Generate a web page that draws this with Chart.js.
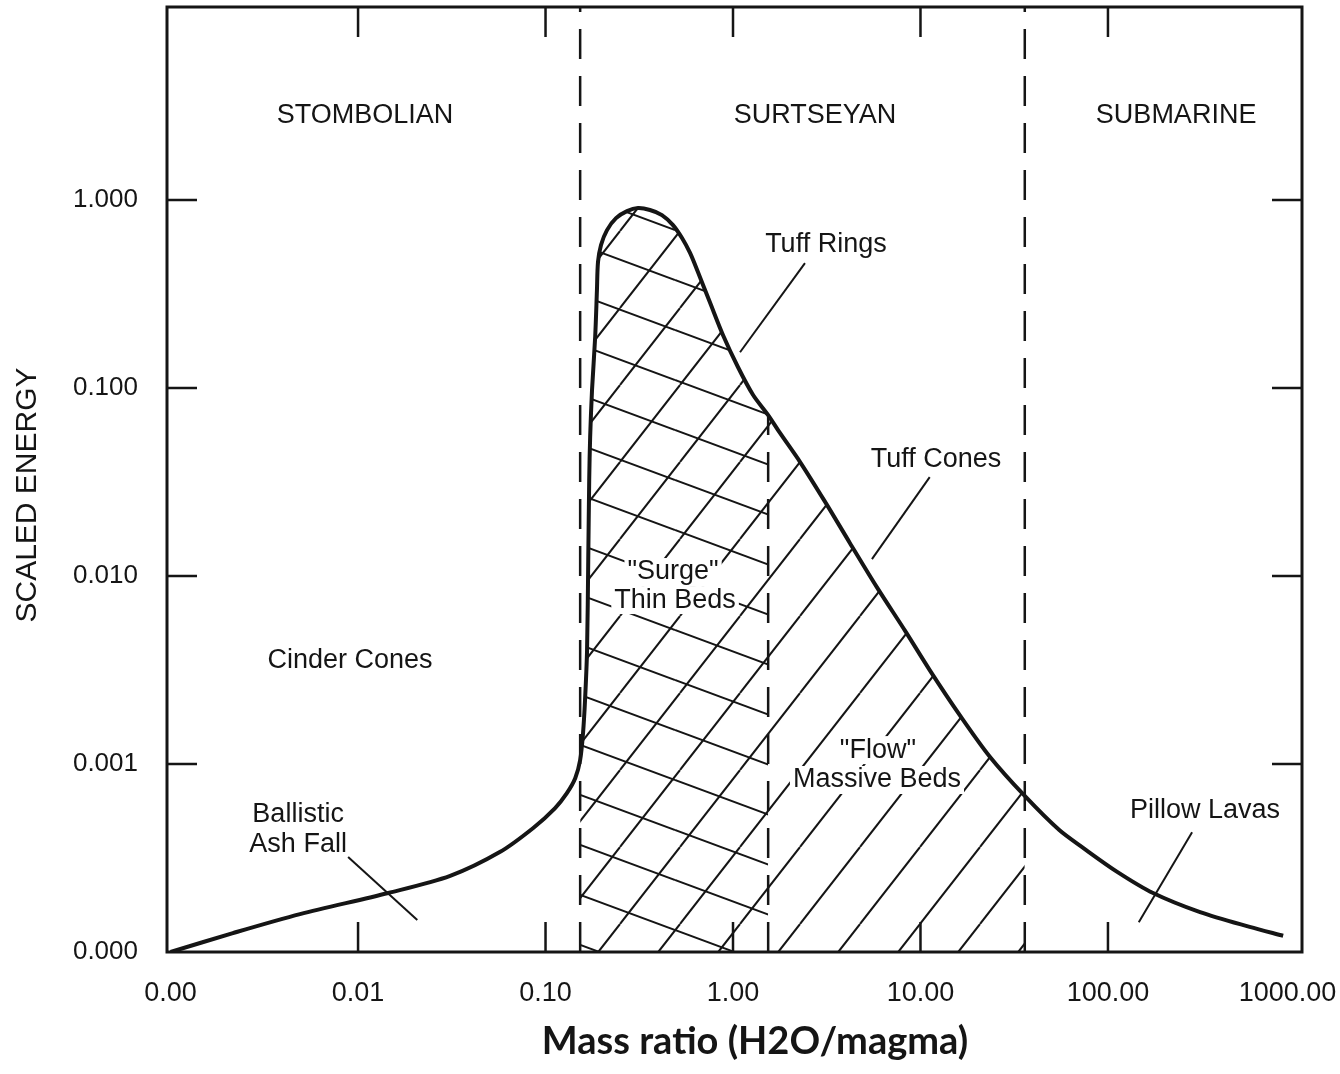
<!DOCTYPE html>
<html>
<head>
<meta charset="utf-8">
<script src="https://cdn.jsdelivr.net/npm/chart.js@4.4.1/dist/chart.umd.min.js"></script>
<style>
  html, body { margin: 0; padding: 0; background: #fff; }
</style>
</head>
<body>
<canvas id="chart" width="1340" height="1074"></canvas>
<script>
// envelope curve: mass ratio (H2O/magma) vs scaled energy
const massRatio = [0.001, 0.00215, 0.0049, 0.0145, 0.031, 0.057, 0.086, 0.1125, 0.13, 0.144,
  0.153, 0.1585, 0.1625, 0.1665, 0.169, 0.171, 0.173, 0.177, 0.184, 0.188,
  0.1905, 0.1977, 0.2128, 0.2377, 0.2721, 0.3113, 0.3606, 0.4178, 0.4786, 0.5346,
  0.59, 0.65, 0.753, 0.885, 1.064, 1.28, 1.54, 1.78, 2.28, 3.1,
  4.2, 5.85, 8.3, 11.2, 16.2, 23.5, 36, 55, 74, 112, 174, 310, 570, 860];
const scaledEnergy = [0.0001, 0.000126, 0.000159, 0.000206, 0.000254, 0.00034, 0.000457, 0.000583, 0.0007, 0.00084,
  0.00105, 0.00146, 0.0022, 0.004, 0.0122, 0.0324, 0.055, 0.0975, 0.187, 0.33,
  0.468, 0.577, 0.692, 0.801, 0.873, 0.906, 0.885, 0.832, 0.736, 0.628,
  0.523, 0.414, 0.286, 0.191, 0.129, 0.0918, 0.0718, 0.0577, 0.0404, 0.0248,
  0.015, 0.00873, 0.00509, 0.00316, 0.00182, 0.00109, 0.000676, 0.000445, 0.000357, 0.000267, 0.000206, 0.000163, 0.000136, 0.000122];

// regime boundaries (dashed lines)
const surtseyanStart = 0.153;
const thinBedsEnd = 1.54;
const thinBedsTop = 0.0718;
const submarineStart = 36;

// axes
const xTicks = [0.001, 0.01, 0.1, 1, 10, 100, 1000];
const xTickLabels = ['0.00', '0.01', '0.10', '1.00', '10.00', '100.00', '1000.00'];
const yTicks = [0.0001, 0.001, 0.01, 0.1, 1];
const yTickLabels = ['0.000', '0.001', '0.010', '0.100', '1.000'];
const xMin = 0.000957, xMax = 1084;
const yMin = 0.0001, yMax = 10.64;

// labels placed in data coordinates
const zoneNames = ['STOMBOLIAN', 'SURTSEYAN', 'SUBMARINE'];
const zoneX = [0.0109, 2.74, 231];
const zoneY = 2.8;
const noteText = ['Tuff Rings', 'Tuff Cones', '"Surge"', 'Thin Beds', 'Cinder Cones', '"Flow"', 'Massive Beds', 'Ballistic', 'Ash Fall', 'Pillow Lavas'];
const noteX = [3.13, 12.1, 0.479, 0.491, 0.00906, 5.93, 5.86, 0.00479, 0.00479, 329];
const noteY = [0.577, 0.0414, 0.0105, 0.00745, 0.00357, 0.001186, 0.000822, 0.000536, 0.000371, 0.000569];
const noteBox = [false, false, true, true, false, true, true, false, false, false];
const leaderFrom = [[2.42, 0.462], [11.2, 0.0336], [0.00885, 0.00032], [281, 0.000434]];
const leaderTo = [[1.09, 0.155], [5.51, 0.0123], [0.0207, 0.000148], [146, 0.000144]];

const FONT = '"Liberation Sans", Arial, Helvetica, sans-serif';
const INK = '#151515';

const curve = massRatio.map((v, i) => ({x: v, y: scaledEnergy[i]}));
const surtseyanPart = curve.filter(p => p.x >= surtseyanStart && p.x <= submarineStart);
const thinBedsPart = curve.filter(p => p.x >= surtseyanStart && p.x <= thinBedsEnd);

function hatch(w, h, forward, dx, dy) {
  const c = document.createElement('canvas');
  c.width = w; c.height = h;
  const g = c.getContext('2d');
  g.strokeStyle = INK;
  g.lineWidth = 2;
  for (let k = -1; k <= 1; k++) {
    g.beginPath();
    if (forward) { g.moveTo(k * w, h); g.lineTo(k * w + w, 0); }
    else { g.moveTo(0, k * h); g.lineTo(w, k * h + h); }
    g.stroke();
  }
  const pat = g.createPattern(c, 'repeat');
  pat.setTransform(new DOMMatrix([1, 0, 0, 1, dx, dy]));
  return pat;
}

const slashFill = hatch(60, 77, true, 20, 0);
const backFill = hatch(135, 50, false, 0, 30);

function vline(xv, y0, y1) {
  return {
    data: [{x: xv, y: y0}, {x: xv, y: y1}],
    borderColor: INK, borderWidth: 2.5, borderDash: [30, 17],
    pointRadius: 0, fill: false, tension: 0
  };
}

const decor = {
  id: 'decor',
  beforeDraw(chart) {
    // the last x label sits a little left of its tick, inside the page
    const items = chart.scales.x.getLabelItems(chart.chartArea);
    const last = items[items.length - 1];
    if (last && last.options && last.options.translation) last.options.translation[0] -= 8;
  },
  afterDatasetsDraw(chart) {
    const {ctx, chartArea: a, scales: {x, y}} = chart;
    ctx.save();

    ctx.font = '27px ' + FONT;
    ctx.textAlign = 'center';
    ctx.textBaseline = 'middle';
    noteText.forEach((t, i) => {
      if (!noteBox[i]) return;
      const px = x.getPixelForValue(noteX[i]), py = y.getPixelForValue(noteY[i]);
      const w = ctx.measureText(t).width;
      ctx.fillStyle = '#fff';
      ctx.fillRect(px - w / 2 - 3, py - 14, w + 6, 28);
    });

    ctx.strokeStyle = INK;
    ctx.lineWidth = 2;
    leaderFrom.forEach((p, i) => {
      const q = leaderTo[i];
      ctx.beginPath();
      ctx.moveTo(x.getPixelForValue(p[0]), y.getPixelForValue(p[1]));
      ctx.lineTo(x.getPixelForValue(q[0]), y.getPixelForValue(q[1]));
      ctx.stroke();
    });

    ctx.fillStyle = INK;
    noteText.forEach((t, i) => {
      ctx.fillText(t, x.getPixelForValue(noteX[i]), y.getPixelForValue(noteY[i]));
    });
    zoneNames.forEach((t, i) => {
      ctx.fillText(t, x.getPixelForValue(zoneX[i]), y.getPixelForValue(zoneY));
    });

    // frame and inward tick marks
    ctx.lineWidth = 3;
    ctx.strokeRect(a.left, a.top, a.right - a.left, a.bottom - a.top);
    ctx.lineWidth = 2.5;
    xTicks.slice(1, -1).forEach(v => {
      const px = x.getPixelForValue(v);
      ctx.beginPath();
      ctx.moveTo(px, a.bottom); ctx.lineTo(px, a.bottom - 30);
      ctx.moveTo(px, a.top); ctx.lineTo(px, a.top + 30);
      ctx.stroke();
    });
    yTicks.slice(1).forEach(v => {
      const py = y.getPixelForValue(v);
      ctx.beginPath();
      ctx.moveTo(a.left, py); ctx.lineTo(a.left + 30, py);
      ctx.moveTo(a.right, py); ctx.lineTo(a.right - 30, py);
      ctx.stroke();
    });

    // axis titles
    ctx.fillStyle = INK;
    ctx.font = 'bold 38px Lato, "Open Sans", sans-serif';
    ctx.fillText('Mass ratio (H2O/magma)', 755, 1042);
    ctx.save();
    ctx.translate(28, 495);
    ctx.rotate(-Math.PI / 2);
    ctx.font = '30px ' + FONT;
    ctx.fillText('SCALED ENERGY', 0, 0);
    ctx.restore();

    ctx.restore();
  }
};

new Chart(document.getElementById('chart'), {
  type: 'line',
  data: {
    datasets: [
      {
        data: curve, borderColor: INK, borderWidth: 4,
        pointRadius: 0, fill: false, tension: 0.3
      },
      vline(surtseyanStart, yMin, yMax),
      vline(thinBedsEnd, yMin, thinBedsTop),
      vline(submarineStart, yMin, yMax),
      {
        data: thinBedsPart, borderWidth: 0, borderColor: 'rgba(0,0,0,0)',
        backgroundColor: backFill, pointRadius: 0, fill: 'start', tension: 0.3
      },
      {
        data: surtseyanPart, borderWidth: 0, borderColor: 'rgba(0,0,0,0)',
        backgroundColor: slashFill, pointRadius: 0, fill: 'start', tension: 0.3
      }
    ]
  },
  options: {
    responsive: false,
    animation: false,
    devicePixelRatio: 1,
    layout: { padding: { top: 7, right: 38, left: 0, bottom: 0 } },
    plugins: { legend: { display: false }, tooltip: { enabled: false } },
    scales: {
      x: {
        type: 'logarithmic', min: xMin, max: xMax,
        grid: { display: false }, border: { display: false },
        afterBuildTicks: s => { s.ticks = xTicks.map(v => ({value: v})); },
        afterFit: s => { s.height = 122; s.paddingLeft = 0; s.paddingRight = 0; },
        ticks: {
          autoSkip: false, maxRotation: 0, padding: 17, color: INK,
          font: { family: FONT, size: 27 },
          callback: v => xTickLabels[xTicks.indexOf(v)]
        }
      },
      y: {
        type: 'logarithmic', min: yMin, max: yMax,
        grid: { display: false }, border: { display: false },
        afterBuildTicks: s => { s.ticks = yTicks.map(v => ({value: v})); },
        afterFit: s => { s.width = 167; s.paddingTop = 0; s.paddingBottom = 0; },
        ticks: {
          autoSkip: false, padding: 21, color: INK,
          font: { family: FONT, size: 26 },
          callback: v => yTickLabels[yTicks.indexOf(v)]
        }
      }
    }
  },
  plugins: [decor]
});
</script>
</body>
</html>
